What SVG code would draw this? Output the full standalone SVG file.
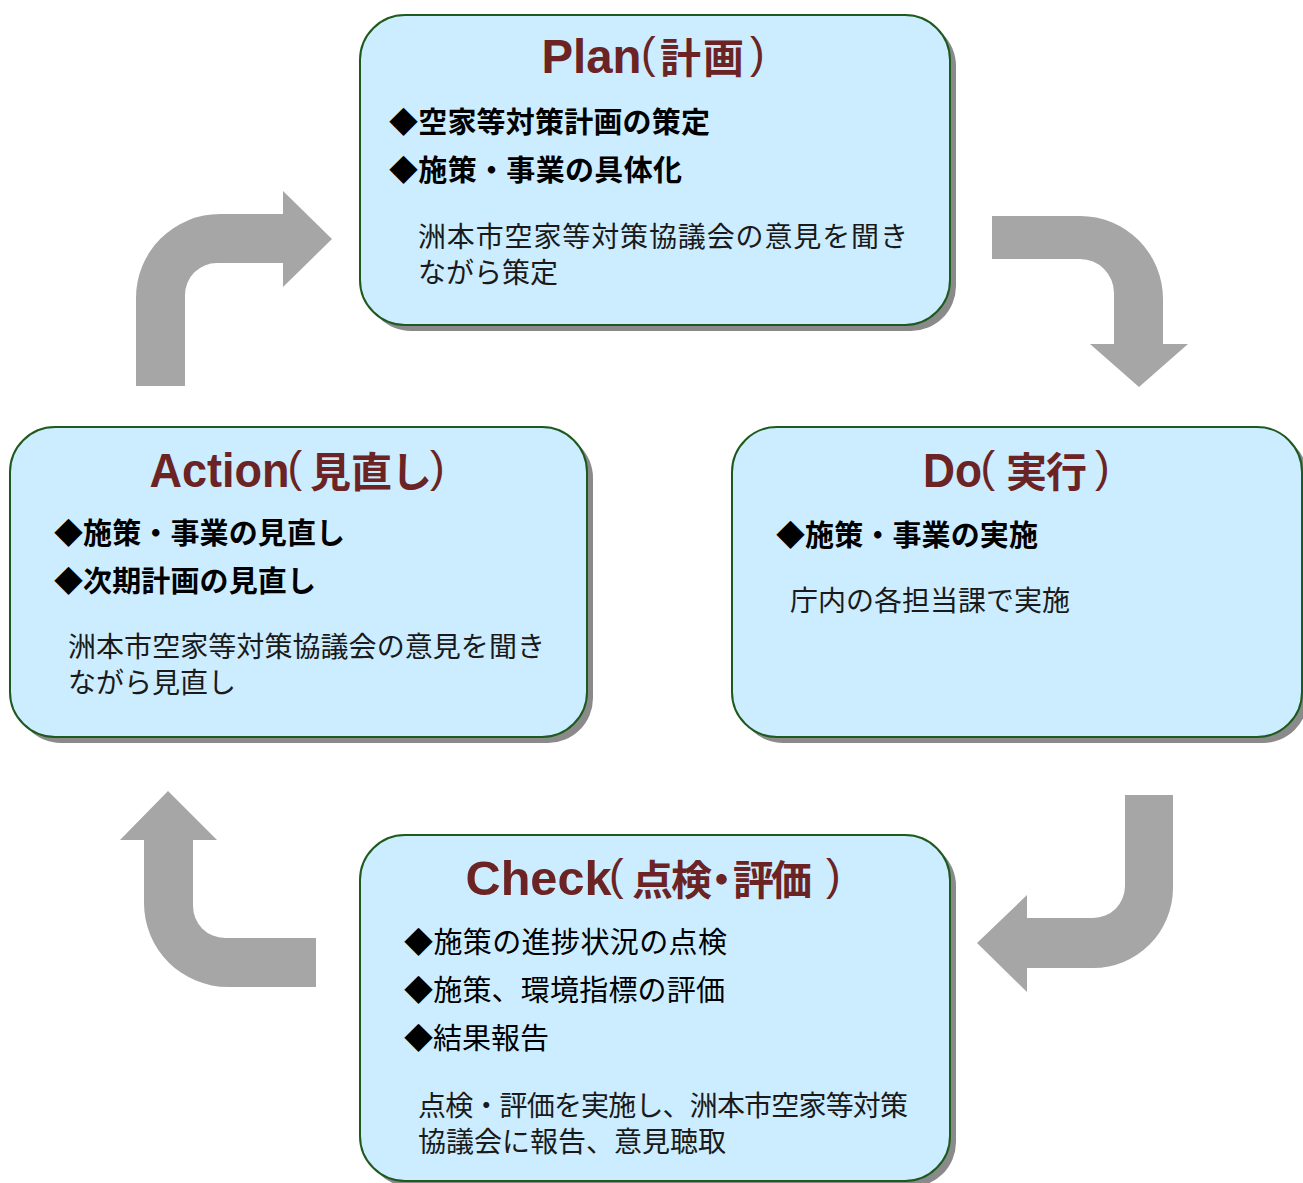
<svg xmlns="http://www.w3.org/2000/svg" width="1303" height="1183" viewBox="0 0 1303 1183">
  <style>
    .box { fill: #ccecff; stroke: #1e5a1e; stroke-width: 2; }
    .shadow { fill: #8a8a8a; }
    .title { font-family: "Noto Sans CJK JP", "Liberation Sans", sans-serif; font-size: 41px; font-weight: bold; fill: #6b2323; }
    .title .lat { font-family: "Liberation Sans", Arial, sans-serif; font-size: 48px; }
    .title .par { font-family: "Liberation Sans", Arial, sans-serif; font-size: 44px; font-weight: normal; }
    .item { font-family: "Noto Sans CJK JP", sans-serif; font-size: 29px; font-weight: bold; fill: #000; }
    .item-plain { font-family: "Noto Sans CJK JP", sans-serif; font-size: 29px; font-weight: normal; fill: #000; }
    .note { font-family: "Noto Sans CJK JP", sans-serif; font-size: 28px; fill: #1a1a1a; }
    .arrow { fill: #a6a6a6; }
  </style>

  <!-- cycle arrows between the four stages -->
  <g id="connectors">
    <!-- Plan -> Do -->
    <path class="arrow" d="M992,216 H1080 A83,83 0 0 1 1163,299 V344 H1188 L1139,387 L1090,344 H1114 V293 A34,34 0 0 0 1080,259 H992 Z"/>
    <!-- Do -> Check -->
    <path class="arrow" d="M1125,795 H1173 V888 A80,80 0 0 1 1093,968 H1027 V992 L977,943 L1027,895 V918 H1093 A32,32 0 0 0 1125,886 Z"/>
    <!-- Check -> Action -->
    <path class="arrow" d="M316,938 V987 H228 A84,84 0 0 1 144,903 V840 H120 L168,791 L217,840 H193 V906 A32,32 0 0 0 225,938 Z"/>
    <!-- Action -> Plan -->
    <path class="arrow" d="M136,386 V298 A84,84 0 0 1 220,214 H283 V191 L332,239 L283,287 V263 H217 A32,32 0 0 0 185,295 V386 Z"/>
  </g>

  <g id="node-plan">
    <rect class="shadow" x="366" y="21" width="590" height="310" rx="45"/>
    <rect class="box" x="360" y="15" width="590" height="310" rx="45"/>
    <text class="title" y="73"><tspan class="lat" x="541.5" textLength="100" lengthAdjust="spacingAndGlyphs">Plan</tspan><tspan class="par" x="641" y="68">(</tspan><tspan x="660 703" y="73">計画</tspan><tspan class="par" x="750" y="68">)</tspan></text>
    <text class="item" x="389" y="133" textLength="321">◆空家等対策計画の策定</text>
    <text class="item" x="389" y="181" textLength="293">◆施策・事業の具体化</text>
    <text class="note" x="418" y="247" textLength="490">洲本市空家等対策協議会の意見を聞き</text>
    <text class="note" x="418" y="283">ながら策定</text>
  </g>

  <g id="node-do">
    <rect class="shadow" x="738" y="433" width="570" height="310" rx="45"/>
    <rect class="box" x="732" y="427" width="570" height="310" rx="45"/>
    <text class="title" y="487"><tspan class="lat" x="923" textLength="59" lengthAdjust="spacingAndGlyphs">Do</tspan><tspan class="par" x="980.5" y="482">(</tspan><tspan x="1006 1046" y="487">実行</tspan><tspan class="par" x="1095" y="482">)</tspan></text>
    <text class="item" x="776" y="546" textLength="262">◆施策・事業の実施</text>
    <text class="note" x="790" y="611">庁内の各担当課で実施</text>
  </g>

  <g id="node-check">
    <rect class="shadow" x="366" y="841" width="590" height="346" rx="45"/>
    <rect class="box" x="360" y="835" width="590" height="346" rx="45"/>
    <text class="title" y="895"><tspan class="lat" x="465.5" textLength="146" lengthAdjust="spacingAndGlyphs">Check</tspan><tspan class="par" x="609" y="890">(</tspan><tspan x="632 671" y="895">点検</tspan><tspan x="701">・</tspan><tspan x="733 771">評価</tspan><tspan class="par" x="826" y="890">)</tspan></text>
    <text class="item-plain" x="404" y="953" textLength="323">◆施策の進捗状況の点検</text>
    <text class="item-plain" x="404" y="1001" textLength="321">◆施策、環境指標の評価</text>
    <text class="item-plain" x="404" y="1049">◆結果報告</text>
    <text class="note" x="418" y="1116" textLength="490">点検・評価を実施し、洲本市空家等対策</text>
    <text class="note" x="418" y="1152">協議会に報告、意見聴取</text>
  </g>

  <g id="node-action">
    <rect class="shadow" x="16" y="433" width="577" height="310" rx="45"/>
    <rect class="box" x="10" y="427" width="577" height="310" rx="45"/>
    <text class="title" y="487"><tspan class="lat" x="149.5" textLength="140" lengthAdjust="spacingAndGlyphs">Action</tspan><tspan class="par" x="287.5" y="482">(</tspan><tspan x="310 351 391" y="487">見直し</tspan><tspan class="par" x="430" y="482">)</tspan></text>
    <text class="item" x="54" y="544" textLength="291">◆施策・事業の見直し</text>
    <text class="item" x="54" y="592" textLength="262">◆次期計画の見直し</text>
    <text class="note" x="68" y="657" textLength="477">洲本市空家等対策協議会の意見を聞き</text>
    <text class="note" x="68" y="693">ながら見直し</text>
  </g>
</svg>
